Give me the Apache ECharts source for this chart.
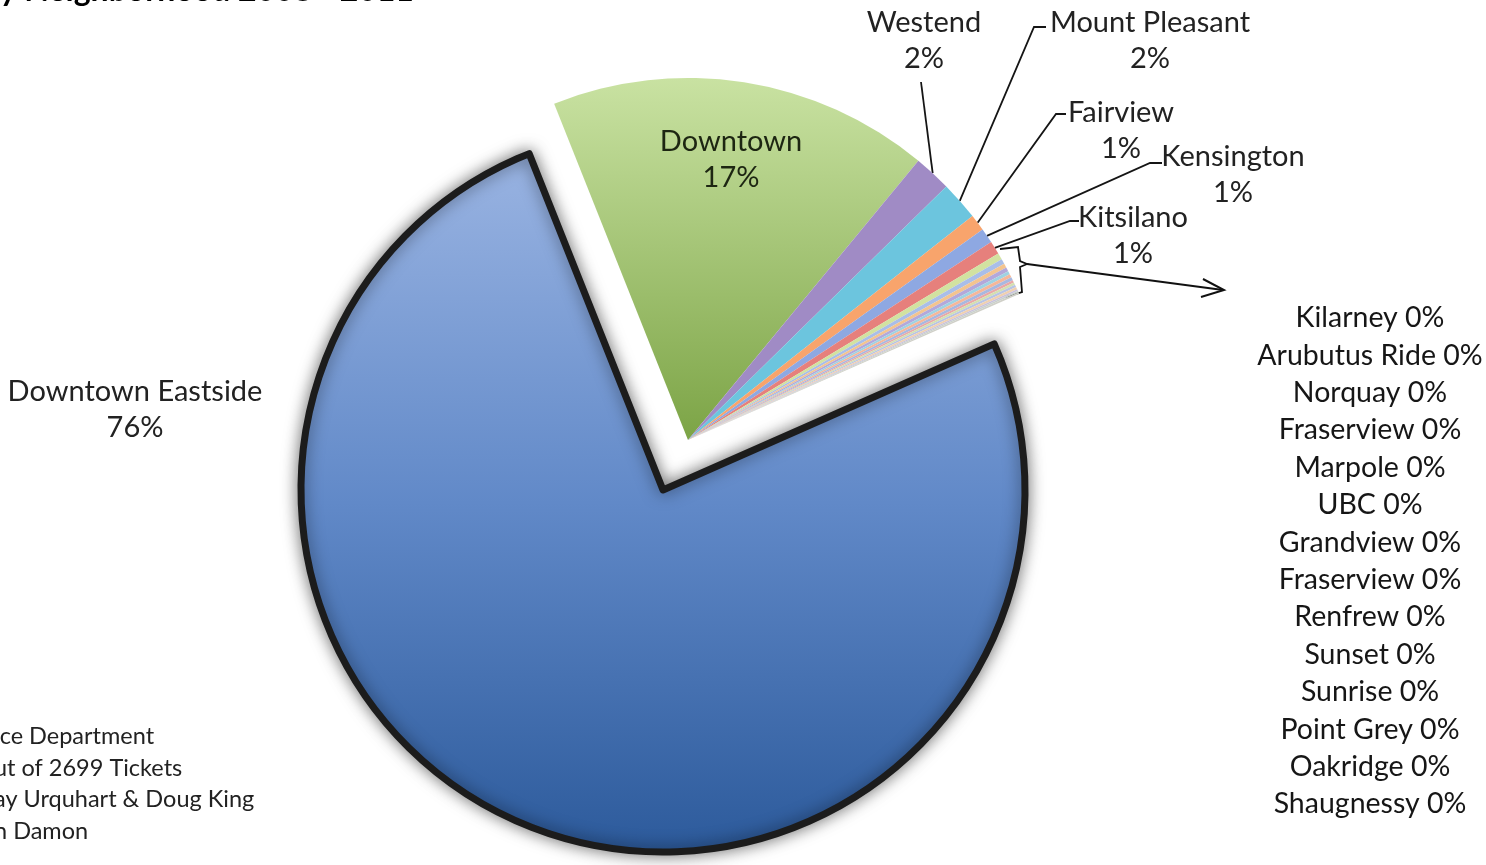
<!DOCTYPE html>
<html><head><meta charset="utf-8">
<script src="https://cdn.jsdelivr.net/npm/echarts@6/dist/echarts.min.js"></script>
<style>html,body{margin:0;padding:0;background:#fff;overflow:hidden}#c{width:1486px;height:865px}</style>
</head><body><div id="c"></div>
<script>
// ---- data ----
const neighborhoods = ['Downtown','Westend','Mount Pleasant','Fairview','Kensington','Kitsilano',
  'Kilarney','Arubutus Ride','Norquay','Fraserview','Marpole','UBC','Grandview','Fraserview',
  'Renfrew','Sunset','Sunrise','Point Grey','Oakridge','Shaugnessy','Downtown Eastside'];
const tickets = [459,45,47,20,18,16, 8,6,5,5,4,4,4,3,3,3,3,2,2,2, 2040];
const titleText = 'by Neighborhood 2008 - 2011';
const noteLines = ['ice Department','ut of 2699 Tickets','ay Urquhart & Doug King','n Damon'];

// ---- styles ----
const FONT = 'Lato';
const DTE = neighborhoods.length - 1;
const grad = (a,b,c) => ({type:'linear',x:0,y:0,x2:0,y2:1,colorStops:c?[{offset:0,color:a},{offset:0.5,color:b},{offset:1,color:c}]:[{offset:0,color:a},{offset:1,color:b}]});
const sliceColors = [grad('#C9E2A2','#7CA446'),'#A08BC5','#6CC5DE','#F8A46C','#8EA8E2','#E6807C',
  '#D2E2A0','#A9BEE8','#F3C48F','#B3A8DA','#9FD2E2','#F5B79A','#A8B8E0','#E8A8A8',
  '#D4E0B0','#B8C4E4','#F0D0B0','#C8C0DC','#C8D0CC','#D0D0C8', grad('#9AB4E2','#6189C8','#2C5A9B')];
// label anchor layout (annotation positions)
const spots = {
  0:{x:731,y:160}, 1:{x:924,y:41,line:[[921,82]]}, 2:{x:1150,y:41,line:[[1034,27],[1046,27]]},
  3:{x:1121,y:131,line:[[1056,114],[1066,114]]}, 4:{x:1233,y:175,line:[[1150,163],[1162,163]]},
  5:{x:1133,y:236,line:[[1070,221],[1079,221]]}, 20:{x:135,y:410}
};
const pct = p => Math.round(p) + '%';

const labelStyle = {fontFamily:FONT,fontSize:29,color:'#222',lineHeight:36,overflow:'none'};

function makeData(seriesIsDTE){
  return neighborhoods.map((n,i)=>{
    const mine = seriesIsDTE ? i===DTE : i!==DTE;
    const item = {name:n, value:tickets[i]};
    if(!mine){
      item.itemStyle={color:'rgba(0,0,0,0)',borderWidth:0,shadowBlur:0};
      item.label={show:false}; item.labelLine={show:false};
    } else {
      item.itemStyle={color:sliceColors[i]};
      if(i===DTE){ Object.assign(item.itemStyle,{borderColor:'#1c1c1c',borderWidth:7,shadowBlur:16,shadowColor:'rgba(0,0,0,0.5)'}); }
      const small = i>=6 && i<DTE;
      item.label={show:true, formatter: p => small ? p.name+' '+pct(p.percent) : p.name+'\n'+pct(p.percent)};
      if(small){ item.label.color='#161616'; item.label.fontSize=28.5; }
      if(i===0) item.label.color='#1d2612';
      item.labelLine={show: i>=1 && i<=5};
    }
    return item;
  });
}

function layoutFn(params){
  const i = params.dataIndex;
  if(i>=6 && i<DTE){
    return {x:1370, y:318 + (i-6)*37.4, align:'center', verticalAlign:'middle'};
  }
  const s = spots[i];
  if(!s) return {};
  const out = {x:s.x, y:s.y, align:'center', verticalAlign:'middle'};
  if(s.line && params.labelLinePoints){
    const st = params.labelLinePoints[0];
    const pts = [st].concat(s.line);
    if(pts.length<3) pts.push(s.line[s.line.length-1]);
    out.labelLinePoints = pts;
  }
  return out;
}

const common = {type:'pie', radius:362, startAngle:111.7, clockwise:true, avoidLabelOverlap:false,
  animation:false, silent:true, label:Object.assign({position:'outside'},labelStyle),
  labelLine:{length:10,length2:10,lineStyle:{color:'#151515',width:1.8}}, labelLayout:layoutFn,
  emphasis:{disabled:true}};

const chart = echarts.init(document.getElementById('c'));
chart.setOption({
  backgroundColor:'#fff',
  series:[
    Object.assign({}, common, {center:[663,490], data:makeData(true), z:2}),
    Object.assign({}, common, {center:[688,440], data:makeData(false), z:3})
  ],
  graphic:[
    {type:'text', left:-18, top:-25.5, style:{text:titleText, font:'bold 32px '+FONT, fill:'#000'}},
    {type:'text', x:-6, y:721, style:{text:noteLines.join('\n'), fontFamily:FONT, fontSize:23.5, lineHeight:31.5, fill:'#222'}},
    {type:'polyline', shape:{points:[[1000,249],[1018,247],[1020,261],[1027,264],[1020,267],[1022,292],[1006,297]]}, style:{stroke:'#111',lineWidth:1.8,fill:null}},
    {type:'polyline', shape:{points:[[1027,264],[1223,290]]}, style:{stroke:'#111',lineWidth:1.8,fill:null}},
    {type:'polyline', shape:{points:[[1203,279],[1224,290],[1201,297]]}, style:{stroke:'#111',lineWidth:2,fill:null}}
  ]
});
</script></body></html>
